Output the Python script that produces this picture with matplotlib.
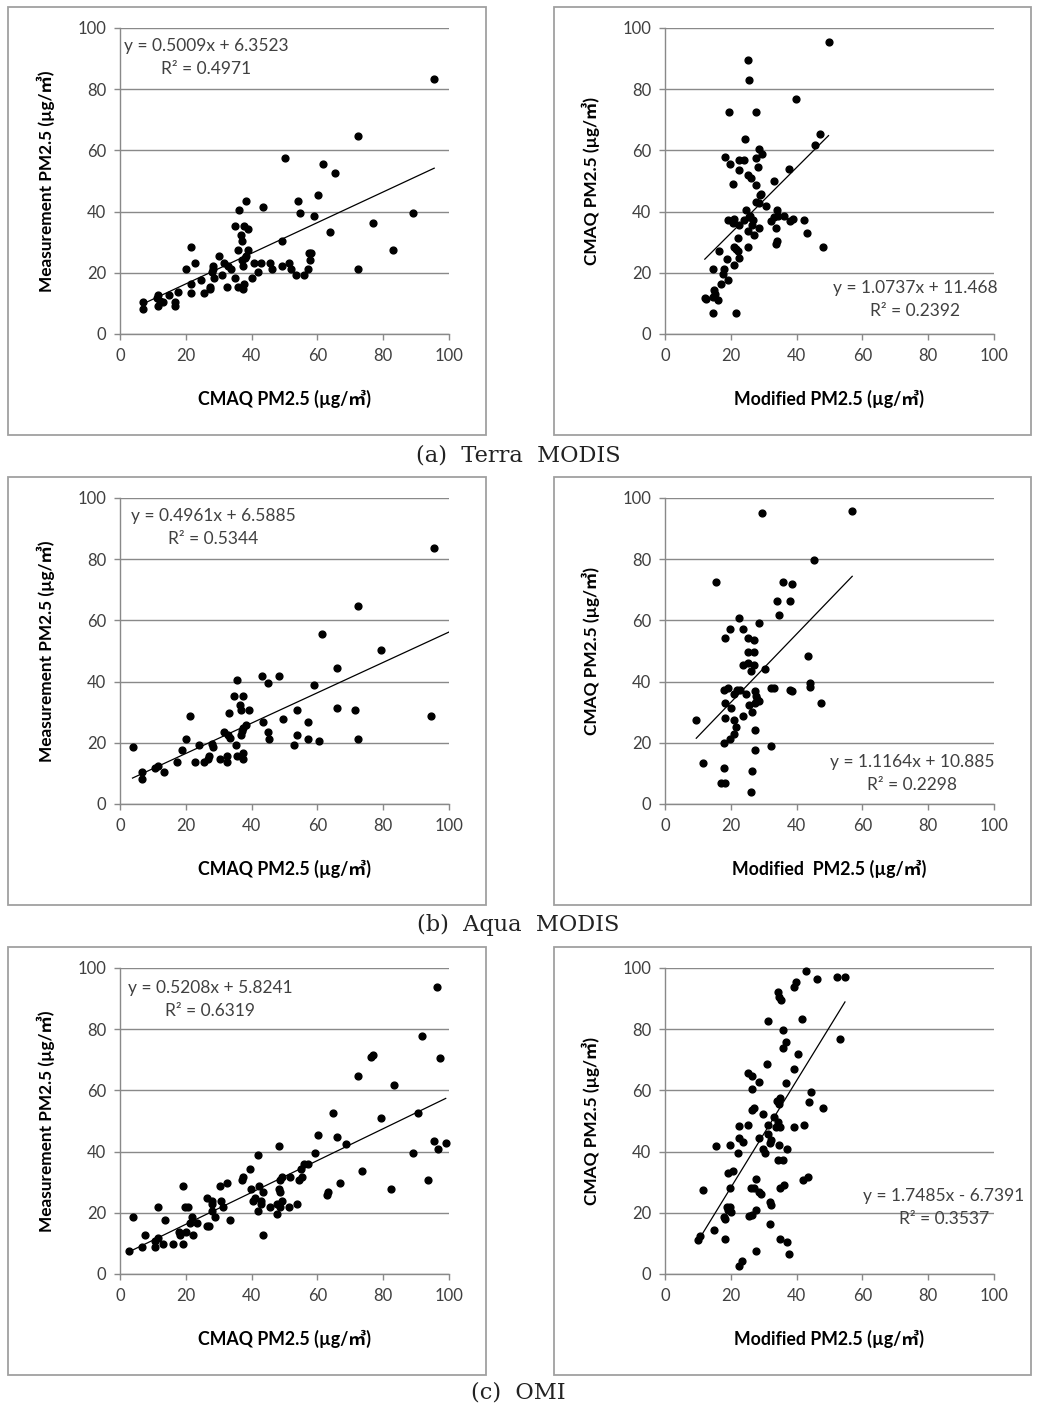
import matplotlib
matplotlib.use("Agg")
import matplotlib.pyplot as plt
import numpy as np
from matplotlib.patches import Rectangle

W, H = 1062, 1418

# (a) Terra MODIS - left: CMAQ vs measurement
terra_l_x = [95.5, 72.2, 50.0, 61.6, 65.2, 60.3, 54.0, 38.4, 43.4, 36.2,
             54.8, 89.2, 59.0, 76.8, 35.0, 37.6, 38.9, 63.7, 36.7, 37.1,
             49.2, 83.0, 21.5, 35.8, 38.9, 57.4, 58.0, 30.0, 38.4, 57.6,
             22.8, 31.6, 40.7, 42.9, 45.5, 51.5, 37.2, 37.9, 28.3, 32.8,
             37.4, 49.2, 20.2, 28.3, 33.6, 46.2, 51.9, 57.2, 72.2, 28.1,
             30.9, 42.0, 53.5, 56.0, 28.5, 35.0, 40.2, 24.6, 21.5, 37.6,
             27.5, 32.5, 35.8, 27.3, 37.4, 21.5, 25.6, 17.7, 15.0, 11.6,
             11.1, 13.1, 11.6, 16.7, 16.7, 6.9, 6.9, 12.1]
terra_l_y = [83.4, 64.7, 57.4, 55.5, 52.6, 45.3, 43.4, 43.4, 41.5, 40.6,
             39.5, 39.5, 38.6, 36.2, 35.3, 35.3, 34.3, 33.3, 32.3, 30.5,
             30.5, 27.5, 28.4, 27.5, 27.5, 26.5, 26.5, 25.5, 25.5, 24.1,
             23.1, 23.1, 23.1, 23.1, 23.1, 23.1, 24.1, 24.9, 22.2, 22.2,
             22.2, 22.2, 21.3, 21.3, 21.3, 21.3, 21.3, 21.3, 21.3, 20.2,
             19.2, 20.2, 19.2, 19.2, 18.3, 18.3, 18.3, 17.5, 16.4, 16.4,
             15.3, 15.5, 15.5, 14.6, 14.6, 13.4, 13.4, 13.6, 12.7, 12.7,
             11.7, 10.3, 9.3, 10.3, 9.1, 10.3, 8.3, 10.9]

# (a) Terra MODIS - right: modified vs CMAQ
terra_r_x = [49.7, 25.2, 25.6, 39.9, 19.4, 27.8, 47.0, 45.7, 24.2, 28.7,
             29.5, 18.3, 22.4, 24.1, 27.8, 19.8, 28.2, 37.7, 22.5, 25.1,
             26.1, 33.2, 20.6, 27.8, 29.2, 28.9, 27.8, 28.6, 30.6, 24.6,
             34.1, 36.2, 33.2, 34.2, 38.9, 38.0, 42.4, 19.2, 21.0, 24.1,
             25.4, 26.8, 25.8, 32.2, 20.6, 22.5, 26.4, 28.6, 33.6, 25.1,
             26.9, 43.3, 34.1, 33.7, 22.1, 25.2, 47.9, 21.0, 21.6, 22.3,
             16.3, 22.5, 18.8, 21.0, 14.6, 18.0, 17.5, 17.0, 19.3, 15.0,
             15.2, 12.1, 12.6, 14.7, 16.0, 14.6, 21.6]
terra_r_y = [95.4, 89.7, 83.0, 76.7, 72.4, 72.4, 65.2, 61.7, 63.6, 60.3,
             58.8, 57.9, 57.0, 57.0, 57.4, 55.5, 54.5, 54.0, 53.5, 52.1,
             51.1, 50.1, 49.1, 48.7, 45.7, 45.3, 43.3, 42.8, 41.9, 40.4,
             40.6, 38.6, 38.1, 38.6, 37.6, 36.8, 37.1, 37.1, 37.6, 37.1,
             38.1, 37.1, 38.6, 36.8, 36.2, 35.7, 35.7, 34.7, 34.7, 33.7,
             32.3, 33.0, 30.3, 29.5, 31.3, 28.4, 28.4, 28.4, 27.8, 27.1,
             27.1, 25.0, 24.6, 22.6, 21.3, 21.3, 19.7, 16.4, 17.5, 14.4,
             13.1, 11.7, 11.4, 12.0, 11.1, 6.8, 6.8]

# (b) Aqua MODIS
aqua_l_x = [95.4, 72.2, 61.5, 79.4, 66.0, 43.3, 48.2, 35.6, 45.0, 58.9,
            34.8, 37.4, 36.4, 36.9, 39.3, 33.0, 53.9, 66.0, 71.4, 21.4,
            94.4, 49.4, 43.5, 57.2, 38.3, 37.5, 37.0, 31.7, 45.0, 32.7,
            36.9, 53.9, 33.5, 20.0, 45.4, 57.2, 72.2, 60.5, 3.8, 24.1,
            27.9, 35.2, 53.0, 28.4, 18.7, 37.4, 27.1, 32.5, 35.6, 26.7,
            30.4, 37.4, 17.4, 22.7, 25.5, 32.5, 11.4, 10.7, 13.4, 6.7,
            6.7]
aqua_l_y = [83.5, 64.7, 55.6, 50.2, 44.5, 41.7, 41.7, 40.6, 39.6, 38.8,
            35.4, 35.4, 32.4, 30.6, 30.6, 29.6, 30.6, 31.4, 30.6, 28.6,
            28.6, 27.7, 26.7, 26.7, 25.7, 24.8, 24.0, 23.4, 23.4, 22.4,
            22.4, 22.4, 21.5, 21.4, 21.3, 21.3, 21.3, 20.5, 18.6, 19.4,
            19.7, 19.4, 19.4, 18.6, 17.5, 16.6, 15.6, 15.6, 15.6, 14.7,
            14.7, 14.6, 13.6, 13.6, 13.6, 13.6, 12.4, 11.8, 10.3, 10.3,
            8.3]

aqua_r_x = [29.5, 56.9, 45.2, 15.6, 35.8, 38.5, 34.0, 38.0, 34.5, 22.5,
            28.7, 19.7, 23.7, 18.3, 25.1, 26.9, 25.1, 26.9, 43.4, 23.7,
            25.1, 26.9, 26.0, 30.5, 44.2, 44.2, 17.9, 19.2, 21.1, 21.9,
            22.9, 24.7, 27.3, 27.6, 28.1, 28.7, 32.2, 33.2, 38.0, 38.6,
            47.5, 18.3, 25.6, 27.3, 20.2, 26.4, 9.5, 18.3, 21.1, 23.8,
            21.6, 21.1, 19.8, 27.3, 17.9, 32.2, 27.3, 11.7, 17.9, 26.4,
            17.0, 18.3, 26.0]
aqua_r_y = [95.2, 95.6, 79.8, 72.5, 72.5, 71.9, 66.3, 66.3, 61.9, 60.9,
            59.0, 57.1, 57.1, 54.1, 54.1, 53.7, 49.8, 49.8, 48.4, 45.5,
            46.0, 45.5, 43.6, 44.0, 39.6, 38.2, 37.3, 37.8, 35.8, 37.3,
            37.3, 35.9, 36.8, 35.4, 34.4, 33.8, 37.8, 37.8, 37.3, 36.8,
            33.0, 33.0, 32.4, 33.0, 31.4, 30.0, 27.3, 28.2, 27.3, 28.6,
            25.3, 22.8, 21.3, 24.3, 19.9, 19.0, 17.6, 13.3, 11.9, 10.8,
            6.9, 6.9, 4.0]

# (c) OMI
omi_l_x = [96.4, 91.9, 97.3, 76.2, 76.8, 72.2, 83.4, 64.8, 90.5, 79.4,
           60.2, 66.0, 68.7, 95.4, 99.0, 96.8, 89.2, 59.2, 41.9, 48.2,
           57.2, 55.9, 54.9, 54.3, 51.8, 49.1, 48.7, 55.2, 73.5, 39.6,
           37.4, 37.0, 32.4, 30.3, 19.1, 42.4, 48.2, 48.6, 39.8, 43.6,
           66.9, 82.5, 62.8, 63.1, 93.6, 26.3, 28.1, 30.8, 41.1, 40.5,
           42.8, 42.9, 49.1, 47.6, 48.6, 45.5, 51.3, 53.9, 31.3, 28.1,
           11.4, 19.7, 20.6, 27.9, 41.9, 47.8, 3.9, 21.9, 28.9, 13.8,
           33.4, 21.4, 23.3, 26.5, 27.1, 18.0, 18.3, 20.1, 22.3, 43.6,
           7.6, 11.4, 10.7, 13.0, 16.0, 19.2, 6.7, 10.6, 2.6]
omi_l_y = [93.7, 77.8, 70.6, 71.0, 71.5, 64.8, 61.9, 52.7, 52.7, 50.9,
           45.5, 44.7, 42.6, 43.6, 42.7, 40.7, 39.7, 39.7, 38.8, 41.7,
           35.8, 35.8, 34.3, 30.6, 31.7, 31.7, 30.6, 31.7, 33.5, 34.4,
           31.6, 30.8, 29.6, 28.7, 28.7, 28.7, 27.7, 26.7, 27.7, 26.7,
           29.6, 27.7, 25.9, 26.7, 30.6, 24.8, 23.8, 23.8, 24.8, 23.8,
           23.8, 22.9, 23.8, 22.8, 21.8, 21.8, 21.8, 22.8, 21.8, 22.8,
           21.8, 21.8, 21.8, 20.5, 20.5, 19.5, 18.6, 18.6, 18.6, 17.7,
           17.7, 16.7, 16.7, 15.7, 15.7, 13.7, 12.9, 13.7, 12.9, 12.9,
           12.9, 11.9, 10.9, 9.8, 9.8, 9.8, 8.9, 8.9, 7.4]

omi_r_x = [43.0, 39.9, 46.2, 52.2, 54.7, 39.1, 34.4, 34.8, 35.3, 31.3,
           41.6, 35.8, 53.3, 36.7, 35.8, 40.3, 31.0, 39.1, 25.1, 26.4,
           28.7, 36.7, 26.4, 44.3, 34.9, 34.0, 34.5, 43.8, 47.9, 26.4,
           26.9, 29.9, 33.2, 34.4, 31.4, 33.6, 34.9, 39.1, 42.1, 22.5,
           25.1, 31.4, 22.5, 23.8, 28.7, 32.2, 31.8, 15.6, 19.7, 34.5,
           29.9, 30.4, 22.1, 37.2, 34.4, 35.8, 19.2, 20.6, 27.8, 42.0,
           43.5, 11.7, 19.8, 26.0, 26.9, 28.7, 29.2, 34.9, 36.3, 31.8,
           32.2, 18.8, 19.8, 19.2, 20.2, 27.8, 25.6, 26.4, 17.9, 18.3,
           31.8, 15.0, 18.3, 34.9, 37.2, 27.8, 37.6, 23.3, 22.5, 10.0,
           10.5]
omi_r_y = [98.9, 95.5, 96.5, 97.0, 97.0, 93.7, 92.2, 90.6, 89.4, 82.6,
           83.4, 79.6, 76.8, 75.8, 73.9, 72.0, 68.5, 67.1, 65.8, 64.7,
           62.8, 62.3, 60.5, 59.5, 57.5, 56.6, 55.6, 56.1, 54.1, 53.7,
           54.1, 52.2, 51.2, 49.8, 48.7, 48.0, 48.0, 48.0, 48.8, 48.5,
           48.8, 45.9, 44.3, 43.2, 44.3, 43.9, 42.8, 41.8, 42.2, 42.2,
           40.7, 39.7, 39.7, 40.7, 37.3, 37.3, 33.0, 33.5, 31.1, 30.6,
           31.6, 27.3, 28.2, 28.2, 28.2, 26.7, 26.2, 28.2, 29.1, 23.4,
           22.4, 21.8, 21.8, 21.0, 20.1, 21.0, 19.1, 19.4, 18.6, 18.0,
           16.2, 14.3, 11.4, 11.4, 10.4, 7.5, 6.6, 4.1, 2.7, 11.1,
           12.4]

# linear fits as printed on the charts
slopes = [0.5009, 1.0737, 0.4961, 1.1164, 0.5208, 1.7485]
intercepts = [6.3523, 11.468, 6.5885, 10.885, 5.8241, -6.7391]
r2_values = ["0.4971", "0.2392", "0.5344", "0.2298", "0.6319", "0.3537"]
eq_texts = ["y = 0.5009x + 6.3523", "y = 1.0737x + 11.468",
            "y = 0.4961x + 6.5885", "y = 1.1164x + 10.885",
            "y = 0.5208x + 5.8241", "y = 1.7485x - 6.7391"]
trend_xmax = [None, None, 100, None, None, None]

unit = " (\u00b5g/\u33a5)"
x_labels = ["CMAQ PM2.5" + unit, "Modified PM2.5" + unit,
            "CMAQ PM2.5" + unit, "Modified  PM2.5" + unit,
            "CMAQ PM2.5" + unit, "Modified PM2.5" + unit]
y_labels = ["Measurement PM2.5" + unit, "CMAQ PM2.5" + unit] * 3
captions = ["(a)  Terra  MODIS", "(b)  Aqua  MODIS", "(c)  OMI"]

xs = [terra_l_x, terra_r_x, aqua_l_x, aqua_r_x, omi_l_x, omi_r_x]
ys = [terra_l_y, terra_r_y, aqua_l_y, aqua_r_y, omi_l_y, omi_r_y]

# layout in pixels
row_plot_top = [28, 498, 968]
row_box_top = [7, 477, 947]
col_plot_left = [120, 665]
col_box = [(8, 486), (554, 1031)]
plot_w, plot_h, box_h = 329, 306, 428
eq_pos = [(206, 46), (915, 288), (213, 516), (912, 762), (210, 988), (944, 1196)]
caption_y = [456, 925, 1393]

sans = ["Lato", "Noto Sans CJK KR", "DejaVu Sans"]
grid_c = "#898989"
text_c = "#404040"


def fx(px):
    return px / W


def fy(py):
    return 1 - py / H


fig = plt.figure(figsize=(W / 100, H / 100), dpi=100)

for r in range(3):
    for c in range(2):
        i = r * 2 + c
        bx0, bx1 = col_box[c]
        fig.patches.append(Rectangle((fx(bx0), fy(row_box_top[r] + box_h)),
                                     (bx1 - bx0) / W, box_h / H,
                                     transform=fig.transFigure, fill=False,
                                     edgecolor="#a0a0a0", linewidth=1.3))
        left = col_plot_left[c]
        top = row_plot_top[r]
        ax = fig.add_axes([fx(left), fy(top + plot_h), plot_w / W, plot_h / H])
        ax.set_xlim(0, 100)
        ax.set_ylim(0, 100)
        ax.set_xticks(np.arange(0, 101, 20))
        ax.set_yticks(np.arange(0, 101, 20))
        ax.grid(axis="y", color=grid_c, linewidth=1.0)
        ax.set_axisbelow(True)
        for s in ["top", "right"]:
            ax.spines[s].set_visible(False)
        for s in ["left", "bottom"]:
            ax.spines[s].set_color(grid_c)
            ax.spines[s].set_linewidth(1.0)
        ax.tick_params(direction="out", length=4, width=1, color=grid_c,
                       labelcolor=text_c, labelsize=12, pad=6)
        for lab in ax.get_xticklabels() + ax.get_yticklabels():
            lab.set_family(sans)

        x = np.array(xs[i])
        y = np.array(ys[i])
        ax.scatter(x, y, s=24, color="black", zorder=3, clip_on=False)
        x1 = trend_xmax[i] if trend_xmax[i] is not None else x.max()
        tx = np.array([x.min(), x1])
        ax.plot(tx, slopes[i] * tx + intercepts[i], color="black",
                linewidth=0.9, zorder=2)

        ax.set_xlabel(x_labels[i], family=sans, fontweight="bold",
                      fontsize=12.8, color="black", labelpad=19)
        ax.set_ylabel(y_labels[i], family=sans, fontweight="bold",
                      fontsize=12.4, color="black", labelpad=16)

        ex, ey = eq_pos[i]
        fig.text(fx(ex), fy(ey), eq_texts[i], ha="center", va="center",
                 family=sans, fontsize=12.5, color=text_c)
        fig.text(fx(ex), fy(ey + 23), "R\u00b2 = " + r2_values[i],
                 ha="center", va="center", family=sans, fontsize=12.5,
                 color=text_c)

    fig.text(fx(518), fy(caption_y[r]), captions[r], ha="center", va="center",
             family=["DejaVu Serif"], fontsize=16.2, color="#222222")

fig.savefig("out.png", dpi=100)
